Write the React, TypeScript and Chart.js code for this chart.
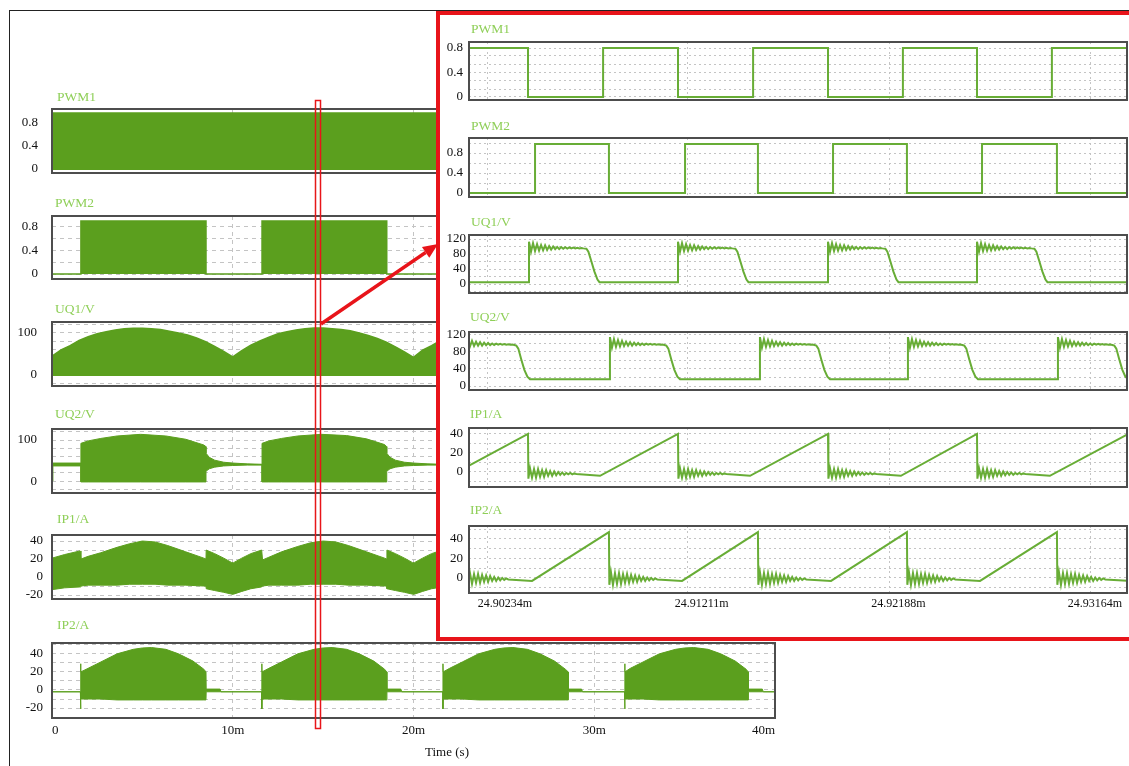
import React, { useEffect, useRef } from 'react';
import { Chart, registerables } from 'chart.js';
Chart.register(...registerables);

const SERIF = "'Liberation Serif', 'Times New Roman', serif";
const FILL = '#5b9f1e';
const LINE = '#68ad36';
const TITLE = '#8fcf58';
const FRAME = '#4d4d4d';
const GRID = '#c4c4c4';
const RED = '#e8141a';

// ================= LEFT: overview, time in ms (0 .. 40 ms) =================
const leftXTicks = [0, 10, 20, 30, 40];
const leftXLabels = ['0', '10m', '20m', '30m', '40m'];
const leftXGrid = [10, 20, 30];

// PWM1: dense switching, drawn as filled band
const pwm1T = [0, 40];
const pwm1Hi = [0.97, 0.97];

// PWM2: bursts
const pwm2T = [0, 1.6, 1.6, 8.52, 8.52, 11.62, 11.62, 18.52, 18.52, 21.64, 21.64, 28.56, 28.56, 31.7, 31.7, 38.52, 38.52, 40];
const pwm2V = [0, 0, 0.9, 0.9, 0, 0, 0.9, 0.9, 0, 0, 0.9, 0.9, 0, 0, 0.9, 0.9, 0, 0];

// UQ1 upper envelope
const uq1T = [0, 0.5, 1, 1.5, 2, 2.5, 3, 3.5, 4, 4.5, 5, 5.5, 6, 6.5, 7, 7.5, 8, 8.5, 9, 9.5, 10,
  10.5, 11, 11.5, 12, 12.5, 13, 13.5, 14, 14.5, 15, 15.5, 16, 16.5, 17, 17.5, 18, 18.5, 19, 19.5, 20,
  20.5, 21, 21.5, 22, 22.5, 23, 23.5, 24, 24.5, 25, 25.5, 26, 26.5, 27, 27.5, 28, 28.5, 29, 29.5, 30,
  30.5, 31, 31.5, 32, 32.5, 33, 33.5, 34, 34.5, 35, 35.5, 36, 36.5, 37, 37.5, 38, 38.5, 39, 39.5, 40];
const uq1Hi = [45, 60, 70, 82, 91, 98, 103, 107, 110, 111, 111, 110, 108, 104, 100, 95, 88, 79, 68, 56, 43,
  58, 71, 81, 90, 98, 103, 107, 110, 112, 112, 110, 108, 105, 100, 94, 87, 78, 67, 55, 42,
  59, 70, 82, 91, 98, 104, 108, 110, 111, 111, 110, 107, 104, 99, 95, 88, 79, 68, 56, 43,
  58, 71, 82, 90, 98, 103, 107, 110, 111, 112, 110, 108, 104, 100, 95, 87, 79, 67, 55, 44];

// UQ2 envelope
const uq2T = [0, 0.05, 1.6, 1.6, 2.0, 2.7, 3.6, 4.9, 6.3, 7.4, 8.4, 8.52, 8.52, 8.7, 9.0, 9.5, 10.0, 10.8, 11.62,
  11.62, 12.0, 12.7, 13.6, 14.9, 16.3, 17.4, 18.4, 18.52, 18.52, 18.7, 19.0, 19.5, 20.0, 20.8, 21.64,
  21.64, 22.0, 22.7, 23.6, 24.9, 26.3, 27.4, 28.4, 28.56, 28.56, 28.7, 29.0, 29.5, 30.0, 30.8, 31.7,
  31.7, 32.0, 32.7, 33.6, 34.9, 36.3, 37.4, 38.4, 38.52, 38.52, 38.7, 39.0, 39.5, 40.0];
const uq2Hi = [44, 44, 44, 92, 98, 104, 110, 114, 110, 102, 88, 84, 68, 58, 51, 46, 44, 42, 41,
  92, 98, 104, 110, 114, 111, 103, 89, 84, 68, 58, 51, 46, 44, 42, 41,
  92, 98, 104, 110, 114, 110, 102, 88, 84, 68, 58, 51, 46, 44, 42, 41,
  92, 98, 104, 110, 114, 110, 102, 88, 84, 68, 58, 51, 46, 44];
const uq2Lo = [0, 37, 37, -2, -2, -2, -2, -2, -2, -2, -2, -2, 24, 30, 34, 37, 38, 39, 39,
  -2, -2, -2, -2, -2, -2, -2, -2, -2, 24, 30, 34, 37, 38, 39, 39,
  -2, -2, -2, -2, -2, -2, -2, -2, -2, 24, 30, 34, 37, 38, 39, 39,
  -2, -2, -2, -2, -2, -2, -2, -2, -2, 24, 30, 34, 37, 38];

// IP1 envelope
const ip1T = [0, 0.7, 1.55, 1.6, 2.0, 2.7, 3.6, 4.3, 5.0, 5.7, 6.4, 7.4, 8.4, 8.52, 8.53, 9.0, 9.5, 9.95, 10.05, 10.5, 11.0, 11.6, 11.65,
  12.0, 12.7, 13.6, 14.3, 15.0, 15.7, 16.4, 17.4, 18.4, 18.52, 18.53, 19.0, 19.5, 19.95, 20.05, 20.5, 21.0, 21.6, 21.65,
  22.0, 22.7, 23.6, 24.3, 25.0, 25.7, 26.4, 27.4, 28.4, 28.56, 28.57, 29.0, 29.5, 29.95, 30.05, 30.5, 31.0, 31.65, 31.7,
  32.0, 32.7, 33.6, 34.3, 35.0, 35.7, 36.4, 37.4, 38.4, 38.52, 38.53, 39.0, 39.5, 40.0];
const ip1Hi = [21, 25, 29, 20, 23, 27, 33, 37, 40, 39, 35, 28, 21, 20, 30, 26, 21, 16, 16, 21, 26, 30, 19,
  22, 28, 34, 38, 40, 39, 35, 28, 21, 20, 30, 26, 21, 16, 16, 21, 26, 30, 19,
  22, 28, 34, 38, 40, 39, 35, 28, 21, 20, 30, 26, 21, 16, 16, 21, 26, 30, 19,
  22, 28, 34, 38, 40, 39, 35, 28, 21, 20, 30, 26, 21, 17];
const ip1Lo = [-14, -12, -11, -10, -9, -9, -9, -8, -8, -8, -9, -9, -10, -10, -13, -15, -17, -19, -19, -16, -13, -11, -10,
  -9, -9, -9, -8, -8, -8, -9, -9, -10, -10, -13, -15, -17, -19, -19, -16, -13, -11, -10,
  -9, -9, -9, -8, -8, -8, -9, -9, -10, -10, -13, -15, -17, -19, -19, -16, -13, -11, -10,
  -9, -9, -9, -8, -8, -8, -9, -9, -10, -10, -13, -15, -17, -19];

// IP2 envelope
const ip2T = [0, 1.57, 1.58, 1.6, 2.0, 2.7, 3.6, 4.5, 5.0, 5.5, 6.3, 7.0, 7.8, 8.4, 8.52, 8.53, 9.3, 9.35, 11.6,
  11.61, 11.62, 12.0, 12.7, 13.6, 14.5, 15.0, 15.5, 16.3, 17.0, 17.8, 18.4, 18.52, 18.53, 19.3, 19.35, 21.62,
  21.63, 21.64, 22.0, 22.7, 23.6, 24.5, 25.0, 25.5, 26.3, 27.0, 27.8, 28.4, 28.56, 28.57, 29.3, 29.35, 31.68,
  31.69, 31.7, 32.0, 32.7, 33.6, 34.5, 35.0, 35.5, 36.3, 37.0, 37.8, 38.4, 38.52, 38.53, 39.3, 39.35, 40];
const ip2Hi = [-2, -2, 29, 20, 24, 31, 40, 45, 46.5, 47, 45, 40, 32, 23, 20, 1, 1, -2, -2,
  29, 20, 24, 31, 40, 45, 46.5, 47, 45, 40, 32, 23, 20, 1, 1, -2, -2,
  29, 20, 24, 31, 40, 45, 46.5, 47, 45, 40, 32, 23, 20, 1, 1, -2, -2,
  29, 20, 24, 31, 40, 45, 46.5, 47, 45, 40, 32, 23, 20, 1, 1, -2, -2];
const ip2Lo = [-2, -2, -21, -10, -10, -10, -11, -11, -11, -11, -11, -11, -11, -11, -11, -2, -2, -2, -2,
  -21, -10, -10, -10, -11, -11, -11, -11, -11, -11, -11, -11, -11, -2, -2, -2, -2,
  -21, -10, -10, -10, -11, -11, -11, -11, -11, -11, -11, -11, -11, -2, -2, -2, -2,
  -21, -10, -10, -10, -11, -11, -11, -11, -11, -11, -11, -11, -11, -2, -2, -2, -2];

// ================= INSET: time in µs after 24.9 ms =================
const insetXTicks = [2.34, 12.11, 21.88, 31.64];
const insetXLabels = ['24.90234m', '24.91211m', '24.92188m', '24.93164m'];
const insetXGrid = [1.45, 11.38, 21.41, 31.44];

const pwm1InT = [0.55, 3.48, 3.48, 7.21, 7.21, 10.93, 10.93, 14.66, 14.66, 18.38, 18.38, 22.10, 22.10, 25.78, 25.78, 29.50, 29.50, 33.23];
const pwm1InV = [0.8, 0.8, 0, 0, 0.8, 0.8, 0, 0, 0.8, 0.8, 0, 0, 0.8, 0.8, 0, 0, 0.8, 0.8];
const pwm2InT = [0.55, 3.83, 3.83, 7.50, 7.50, 11.28, 11.28, 14.90, 14.90, 18.63, 18.63, 22.30, 22.30, 26.03, 26.03, 29.75, 29.75, 33.23];
const pwm2InV = [0, 0, 0.98, 0.98, 0, 0, 0.98, 0.98, 0, 0, 0.98, 0.98, 0, 0, 0.98, 0.98, 0, 0];

const uqRingDt = [0, 0.1, 0.2, 0.3, 0.4, 0.5, 0.6, 0.7, 0.8, 0.9, 1.0, 1.1, 1.2, 1.3, 1.4, 1.5, 1.6, 1.7, 1.8, 1.9, 2.0, 2.1, 2.2, 2.3, 2.4, 2.5, 2.6, 2.7];
const uq1Rise = [3.53, 10.93, 18.38, 25.78];
const uq1Low = 5;
const uq1RingV = [113, 86, 109, 88, 106, 89, 104, 90, 103, 91, 101, 92, 100, 93, 99, 93, 98.5, 94, 98, 94.5, 97.5, 95, 97, 95, 96.5, 95, 96, 95];
const uq1FallDt = [2.85, 2.95, 3.1, 3.25, 3.4, 3.5];
const uq1FallV = [94, 86, 60, 33, 12, 5];

const uq2Rise = [0.10, 7.55, 15.0, 22.35, 29.80];
const uq2Low = 16;
const uq2RingV = [115, 90, 110, 92, 108, 93, 106, 94, 104, 95, 103, 95, 102, 96, 101, 96, 100, 96.5, 99.5, 97, 99, 97, 98.5, 97, 98, 97, 97.5, 96.5];
const uq2FallDt = [2.8, 2.9, 3.05, 3.2, 3.35, 3.48];
const uq2FallV = [95, 88, 62, 38, 22, 16];

const ipRingDt = [0.02, 0.1, 0.2, 0.3, 0.4, 0.5, 0.6, 0.7, 0.8, 0.9, 1.0, 1.1, 1.2, 1.3, 1.4, 1.5, 1.6, 1.7, 1.8, 1.9, 2.0, 2.1, 2.2, 2.3, 2.4];
const ip1Drop = [3.48, 10.93, 18.38, 25.78, 33.28];
const ip1Valley = [-0.39, 7.06, 14.51, 22.0, 29.40];
const ip1PeakV = 40;
const ip1ValleyV = -4;
const ip1RingV = [-7, 4, -6, 3, -6, 3, -5, 2, -5, 2, -4, 1, -4, 0.5, -3.5, 0, -3, -0.5, -3, -1, -2.5, -1, -2.5, -1.5, -2];

const ip2Drop = [0.10, 7.50, 14.90, 22.30, 29.75];
const ip2Valley = [3.68, 11.13, 18.53, 25.93, 33.4];
const ip2PeakV = 47;
const ip2ValleyV = -3;
const ip2RingV = [-7, 6, -7, 5, -6, 5, -6, 4, -5, 4, -5, 3, -4, 2.5, -4, 2, -3, 1, -3, 0.5, -2.5, 0, -2, -0.5, -1.5];

// ================= helpers =================
const pts = (xs: number[], ys: number[]) => xs.map((x, i) => ({ x, y: ys[i] }));

const band = (xs: number[], hi: number[], lo: number[]) => [
  { data: pts(xs, hi), fill: '+1', borderColor: FILL, backgroundColor: FILL, borderWidth: 1 },
  { data: pts(xs, lo), fill: false, borderColor: FILL, backgroundColor: FILL, borderWidth: 1 },
];
const toBase = (xs: number[], ys: number[], base: number) => [
  { data: pts(xs, ys), fill: { value: base }, borderColor: FILL, backgroundColor: FILL, borderWidth: 1.5 },
];
const trace = (data: { x: number; y: number }[]) => [
  { data, fill: false, borderColor: LINE, backgroundColor: LINE, borderWidth: 2 },
];

function squareRing(rises: number[], low: number, ringV: number[], fallDt: number[], fallV: number[]) {
  const out: { x: number; y: number }[] = [{ x: 0, y: low }];
  rises.forEach((r) => {
    out.push({ x: r, y: low });
    uqRingDt.forEach((d, i) => out.push({ x: r + d, y: ringV[i] }));
    fallDt.forEach((d, i) => out.push({ x: r + d, y: fallV[i] }));
  });
  out.push({ x: 34, y: low });
  return out;
}

function sawRing(drops: number[], valleys: number[], peakV: number, valleyV: number, ringV: number[]) {
  const ev = [
    ...drops.map((t) => ({ t, d: true })),
    ...valleys.map((t) => ({ t, d: false })),
  ].sort((a, b) => a.t - b.t);
  const out: { x: number; y: number }[] = [];
  ev.forEach((e) => {
    if (!e.d) out.push({ x: e.t, y: valleyV });
    else {
      out.push({ x: e.t, y: peakV });
      ipRingDt.forEach((d, i) => out.push({ x: e.t + d, y: ringV[i] }));
    }
  });
  return out;
}

const framePlugin = {
  id: 'frame',
  afterDatasetsDraw(chart: any) {
    const { ctx, chartArea: a } = chart;
    ctx.save();
    ctx.setLineDash([]);
    ctx.strokeStyle = FRAME;
    ctx.lineWidth = 2;
    ctx.strokeRect(a.left, a.top, a.right - a.left, a.bottom - a.top);
    ctx.restore();
  },
};

type PanelSpec = {
  title: string; titleX: number; titleY: number;
  left: number; top: number; w: number; h: number;
  xMin: number; xMax: number; yMin: number; yMax: number;
  yTicks: number[]; yLabels: string[]; yPad: number;
  xGrid: number[]; dash: number[];
  xTicks?: number[]; xLabels?: string[]; xPad?: number; xFont?: number; xAlign?: string;
  datasets: any[];
};

const YW = 50, PT = 26, PR = 10;

function PlotPanel({ p }: { p: PanelSpec }) {
  const ref = useRef<HTMLCanvasElement | null>(null);
  const hasX = !!p.xTicks;
  const XH = hasX ? 22 : 0;
  const PB = hasX ? 6 : 26;
  const cw = YW + p.w + PR;
  const ch = PT + p.h + XH + PB;
  useEffect(() => {
    const c = ref.current;
    if (!c) return;
    const chart = new Chart(c, {
      type: 'line',
      data: {
        datasets: p.datasets.map((d) => ({ pointRadius: 0, tension: 0, xAxisID: 'x', yAxisID: 'y', ...d })),
      },
      options: {
        animation: false,
        responsive: false,
        maintainAspectRatio: false,
        devicePixelRatio: 1,
        events: [],
        layout: { padding: { top: PT, right: PR, bottom: PB, left: 0 } },
        plugins: { legend: { display: false }, tooltip: { enabled: false }, title: { display: false } },
        scales: {
          x: {
            type: 'linear', position: 'bottom', min: p.xMin, max: p.xMax, display: hasX,
            afterBuildTicks: (s: any) => { s.ticks = (p.xTicks || []).map((v) => ({ value: v })); },
            afterFit: (s: any) => { s.height = XH; },
            grid: { display: false, drawTicks: false },
            border: { display: false },
            ticks: {
              autoSkip: false, maxRotation: 0, minRotation: 0, align: p.xAlign || 'center',
              padding: p.xPad ?? 5, color: '#111', font: { family: SERIF, size: p.xFont ?? 13 },
              callback: (_v: any, i: number) => (p.xLabels || [])[i] ?? '',
            },
          },
          xg: {
            type: 'linear', position: 'bottom', min: p.xMin, max: p.xMax,
            afterBuildTicks: (s: any) => { s.ticks = p.xGrid.map((v) => ({ value: v })); },
            afterFit: (s: any) => { s.height = 0; },
            grid: { color: GRID, lineWidth: 1, drawTicks: false },
            border: { display: false, dash: p.dash },
            ticks: { display: false },
          },
          y: {
            type: 'linear', position: 'left', min: p.yMin, max: p.yMax,
            afterBuildTicks: (s: any) => { s.ticks = p.yTicks.map((v) => ({ value: v })); },
            afterFit: (s: any) => { s.width = YW; },
            grid: { color: GRID, lineWidth: 1, drawTicks: false },
            border: { display: false, dash: p.dash },
            ticks: {
              autoSkip: false, padding: p.yPad, color: '#111', font: { family: SERIF, size: 13 },
              callback: (_v: any, i: number) => p.yLabels[i] ?? '',
            },
          },
        },
      } as any,
      plugins: [framePlugin],
    });
    return () => chart.destroy();
  }, []);
  return (
    <canvas
      ref={ref}
      width={cw}
      height={ch}
      style={{ position: 'absolute', left: p.left - YW, top: p.top - PT, width: cw, height: ch }}
    />
  );
}

function Title({ text, x, y }: { text: string; x: number; y: number }) {
  return (
    <div style={{ position: 'absolute', left: x, top: y - 9, lineHeight: '18px', font: `13.5px ${SERIF}`, color: TITLE, whiteSpace: 'nowrap' }}>
      {text}
    </div>
  );
}

const L = { left: 52, w: 723, xMin: 0, xMax: 40, xGrid: leftXGrid, dash: [4, 4] };
const I = { left: 469, w: 658, xMin: 0.55, xMax: 33.23, xGrid: insetXGrid, dash: [2, 3] };

const leftPanels: PanelSpec[] = [
  { ...L, title: 'PWM1', titleX: 57, titleY: 98, top: 109, h: 64, yMin: -0.07, yMax: 1.04,
    yTicks: [0, 0.4, 0.8], yLabels: ['0', '0.4', '0.8'], yPad: 14, datasets: toBase(pwm1T, pwm1Hi, -0.02) },
  { ...L, title: 'PWM2', titleX: 55, titleY: 204, top: 216, h: 63, yMin: -0.085, yMax: 0.987,
    yTicks: [0, 0.2, 0.4, 0.6, 0.8], yLabels: ['0', '', '0.4', '', '0.8'], yPad: 14, datasets: toBase(pwm2T, pwm2V, 0) },
  { ...L, title: 'UQ1/V', titleX: 55, titleY: 310, top: 322, h: 64, yMin: -26, yMax: 126,
    yTicks: [-20, 0, 20, 40, 60, 80, 100, 120], yLabels: ['', '0', '', '', '', '', '100', ''], yPad: 15,
    datasets: toBase(uq1T, uq1Hi, -2) },
  { ...L, title: 'UQ2/V', titleX: 55, titleY: 415, top: 429, h: 64, yMin: -29, yMax: 127,
    yTicks: [-20, 0, 20, 40, 60, 80, 100, 120], yLabels: ['', '0', '', '', '', '', '100', ''], yPad: 15,
    datasets: band(uq2T, uq2Hi, uq2Lo) },
  { ...L, title: 'IP1/A', titleX: 57, titleY: 520, top: 535, h: 64, yMin: -24.4, yMax: 46.7,
    yTicks: [-20, -10, 0, 10, 20, 30, 40], yLabels: ['-20', '', '0', '', '20', '', '40'], yPad: 9,
    datasets: band(ip1T, ip1Hi, ip1Lo) },
  { ...L, title: 'IP2/A', titleX: 57, titleY: 626, top: 643, h: 75, yMin: -31, yMax: 52,
    yTicks: [-20, -10, 0, 10, 20, 30, 40, 50], yLabels: ['-20', '', '0', '', '20', '', '40', ''], yPad: 9,
    xTicks: leftXTicks, xLabels: leftXLabels, xPad: 5, xFont: 13, xAlign: 'inner',
    datasets: band(ip2T, ip2Hi, ip2Lo) },
];

const insetPanels: PanelSpec[] = [
  { ...I, title: 'PWM1', titleX: 471, titleY: 30, top: 42, h: 58, yMin: -0.049, yMax: 0.898,
    yTicks: [0, 0.13, 0.27, 0.4, 0.53, 0.67, 0.8], yLabels: ['0', '', '', '0.4', '', '', '0.8'], yPad: 6,
    datasets: trace(pts(pwm1InT, pwm1InV)) },
  { ...I, title: 'PWM2', titleX: 471, titleY: 127, top: 138, h: 59, yMin: -0.08, yMax: 1.1,
    yTicks: [0, 0.2, 0.4, 0.6, 0.8, 1.0], yLabels: ['0', '', '0.4', '', '0.8', ''], yPad: 6,
    datasets: trace(pts(pwm2InT, pwm2InV)) },
  { ...I, title: 'UQ1/V', titleX: 471, titleY: 223, top: 235, h: 58, yMin: -24, yMax: 130.7,
    yTicks: [-20, 0, 20, 40, 60, 80, 100, 120], yLabels: ['', '0', '', '40', '', '80', '', '120'], yPad: 3,
    datasets: trace(squareRing(uq1Rise, uq1Low, uq1RingV, uq1FallDt, uq1FallV)) },
  { ...I, title: 'UQ2/V', titleX: 470, titleY: 318, top: 332, h: 58, yMin: -9.4, yMax: 127,
    yTicks: [0, 20, 40, 60, 80, 100, 120], yLabels: ['0', '', '40', '', '80', '', '120'], yPad: 3,
    datasets: trace(squareRing(uq2Rise, uq2Low, uq2RingV, uq2FallDt, uq2FallV)) },
  { ...I, title: 'IP1/A', titleX: 470, titleY: 415, top: 428, h: 59, yMin: -15.8, yMax: 46.3,
    yTicks: [-10, 0, 10, 20, 30, 40], yLabels: ['', '0', '', '20', '', '40'], yPad: 6,
    datasets: trace(sawRing(ip1Drop, ip1Valley, ip1PeakV, ip1ValleyV, ip1RingV)) },
  { ...I, title: 'IP2/A', titleX: 470, titleY: 511, top: 526, h: 67, yMin: -15.4, yMax: 53.3,
    yTicks: [-10, 0, 10, 20, 30, 40, 50], yLabels: ['', '0', '', '20', '', '40', ''], yPad: 6,
    xTicks: insetXTicks, xLabels: insetXLabels, xPad: 4, xFont: 12, xAlign: 'center',
    datasets: trace(sawRing(ip2Drop, ip2Valley, ip2PeakV, ip2ValleyV, ip2RingV)) },
];

export default function App() {
  // arrow geometry (overlay decoration)
  const tip = { x: 438, y: 244 };
  const tail = { x: 321, y: 324 };
  const dx = tip.x - tail.x, dy = tip.y - tail.y;
  const len = Math.hypot(dx, dy);
  const ux = dx / len, uy = dy / len;
  const bx = tip.x - 15 * ux, by = tip.y - 15 * uy;
  const px = -uy, py = ux;
  const head = `${tip.x},${tip.y} ${bx + 6.5 * px},${by + 6.5 * py} ${bx - 6.5 * px},${by - 6.5 * py}`;

  return (
    <div style={{ position: 'absolute', left: 0, top: 0, width: 1129, height: 766, overflow: 'hidden', background: '#fff' }}>
      <div style={{ position: 'absolute', left: 9, top: 10, width: 1120, height: 756, borderLeft: '1px solid #222', borderTop: '1px solid #222' }} />
      {leftPanels.map((p) => <PlotPanel key={'L' + p.title} p={p} />)}
      {leftPanels.map((p) => <Title key={'LT' + p.title} text={p.title} x={p.titleX} y={p.titleY} />)}
      <div style={{ position: 'absolute', left: 447 - 40, top: 743, width: 80, textAlign: 'center', font: `13px ${SERIF}`, color: '#111', lineHeight: '18px' }}>
        Time (s)
      </div>
      <div style={{ position: 'absolute', left: 436, top: 11, width: 693, height: 630, boxSizing: 'border-box', background: '#fff',
        borderLeft: `4px solid ${RED}`, borderTop: `4px solid ${RED}`, borderBottom: `4px solid ${RED}` }} />
      {insetPanels.map((p) => <PlotPanel key={'I' + p.title} p={p} />)}
      {insetPanels.map((p) => <Title key={'IT' + p.title} text={p.title} x={p.titleX} y={p.titleY} />)}
      <svg width={1129} height={766} style={{ position: 'absolute', left: 0, top: 0, pointerEvents: 'none' }}>
        <rect x={315.5} y={100.5} width={5} height={628} fill="none" stroke={RED} strokeWidth={1.5} />
        <line x1={tail.x} y1={tail.y} x2={bx} y2={by} stroke={RED} strokeWidth={3.5} />
        <polygon points={head} fill={RED} />
      </svg>
    </div>
  );
}
